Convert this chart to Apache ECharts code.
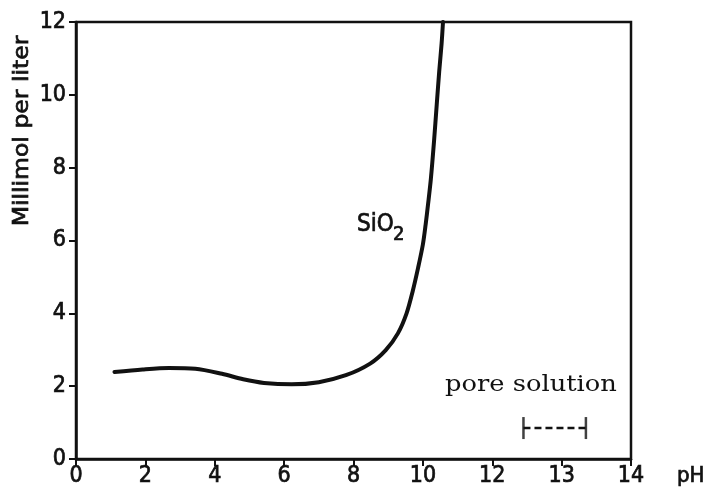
<!DOCTYPE html>
<html>
<head>
<meta charset="utf-8">
<script src="https://cdn.jsdelivr.net/npm/echarts@6/dist/echarts.min.js"></script>
<style>
  html, body { margin: 0; padding: 0; background: #fff; }
  #chart { width: 707px; height: 493px; }
</style>
</head>
<body>
<div id="chart"></div>
<script>
// pH axis tick labels (the scale is compressed above pH 12)
const phTicks = [0, 2, 4, 6, 8, 10, 12, 13, 14];
// Dissolved silica (mmol/L) vs pH
const curvePH     = [1.11, 1.92, 2.68, 3.44, 4.21, 4.82, 5.42, 6.22, 7.0, 7.78, 8.48, 8.93, 9.28, 9.53, 9.71, 9.86, 10.0, 10.08, 10.15, 10.23, 10.32, 10.4, 10.47, 10.54, 10.58];
const curveSilica = [2.39, 2.46, 2.5, 2.48, 2.34, 2.19, 2.09, 2.05, 2.11, 2.3, 2.62, 2.99, 3.45, 4.0, 4.62, 5.24, 5.89, 6.44, 7.0, 7.69, 8.71, 9.74, 10.63, 11.41, 12];
// pH range of concrete pore solution
const porePH    = [12.45, 13.35];
const poreLevel = 0.85;

const ink = '#111';
const labelFont = 'DejaVu Sans Condensed, DejaVu Sans, sans-serif';
// a hairline outline gives the sans labels a medium weight
const medium = { textBorderColor: ink, textBorderWidth: 0.7 };

// map a pH value onto the piecewise axis (one unit per tick interval)
function phToAxis(ph) {
  for (let i = 0; i < phTicks.length - 1; i++) {
    const a = phTicks[i], b = phTicks[i + 1];
    if (ph <= b || i === phTicks.length - 2) return i + (ph - a) / (b - a);
  }
}

const chart = echarts.init(document.getElementById('chart'));

chart.setOption({
  animation: false,
  backgroundColor: '#fff',
  grid: {
    left: 76, right: 76, top: 22, bottom: 34,
    outerBoundsMode: 'none',
    show: true, borderColor: ink, borderWidth: 2.5, backgroundColor: 'transparent'
  },
  xAxis: {
    type: 'value',
    min: 0, max: phTicks.length - 1, interval: 1,
    name: 'pH',
    nameLocation: 'end',
    nameGap: 46,
    nameTextStyle: Object.assign({ color: ink, fontFamily: labelFont, fontSize: 22, verticalAlign: 'top', padding: [6, 0, 0, 0] }, medium),
    axisLine: { show: true, lineStyle: { color: ink, width: 2.5 } },
    axisTick: { show: true, inside: false, length: 7, lineStyle: { color: ink, width: 2 } },
    axisLabel: Object.assign({
      color: ink, fontFamily: labelFont, fontSize: 23, margin: 6,
      formatter: v => String(phTicks[v])
    }, medium),
    splitLine: { show: false }
  },
  yAxis: {
    type: 'value',
    min: 0, max: 12, interval: 2,
    axisLine: { show: true, lineStyle: { color: ink, width: 2.5 } },
    axisTick: { show: true, inside: false, length: 7, lineStyle: { color: ink, width: 2 } },
    axisLabel: Object.assign({ color: ink, fontFamily: labelFont, fontSize: 23, margin: 10 }, medium),
    splitLine: { show: false }
  },
  series: [
    {
      name: 'SiO2',
      type: 'line',
      smooth: 0.3,
      symbol: 'none',
      clip: true,
      lineStyle: { color: ink, width: 4, cap: 'round', join: 'round' },
      data: curvePH.map((p, i) => [phToAxis(p), curveSilica[i]])
    },
    {
      name: 'pore solution',
      type: 'line',
      symbol: 'none',
      lineStyle: { color: ink, width: 2.5, type: [7, 4] },
      data: porePH.map(p => [phToAxis(p), poreLevel])
    },
    {
      name: 'pore solution ends',
      type: 'scatter',
      symbol: 'rect',
      symbolSize: [2.5, 22],
      itemStyle: { color: ink },
      data: porePH.map(p => [phToAxis(p), poreLevel])
    }
  ],
  graphic: [
    {
      type: 'text',
      x: 23, y: 131,
      rotation: Math.PI / 2,
      scaleX: 1.12,
      style: {
        text: 'Millimol per liter',
        fill: ink,
        stroke: ink, lineWidth: 0.7,
        font: '21px "DejaVu Sans", sans-serif',
        textAlign: 'center',
        textVerticalAlign: 'middle'
      }
    },
    {
      type: 'text',
      x: 357, y: 225,
      style: { text: 'SiO', fill: ink, stroke: ink, lineWidth: 0.7, font: '24px "DejaVu Sans Condensed", sans-serif', textAlign: 'left', textVerticalAlign: 'middle' }
    },
    {
      type: 'text',
      x: 393, y: 235,
      style: { text: '2', fill: ink, stroke: ink, lineWidth: 0.7, font: '20px "DejaVu Sans Condensed", sans-serif', textAlign: 'left', textVerticalAlign: 'middle' }
    },
    {
      type: 'text',
      x: 445, y: 385,
      scaleX: 1.17,
      style: { text: 'pore solution', fill: ink, font: '22px "DejaVu Serif", serif', textAlign: 'left', textVerticalAlign: 'middle' }
    }
  ]
});
</script>
</body>
</html>
